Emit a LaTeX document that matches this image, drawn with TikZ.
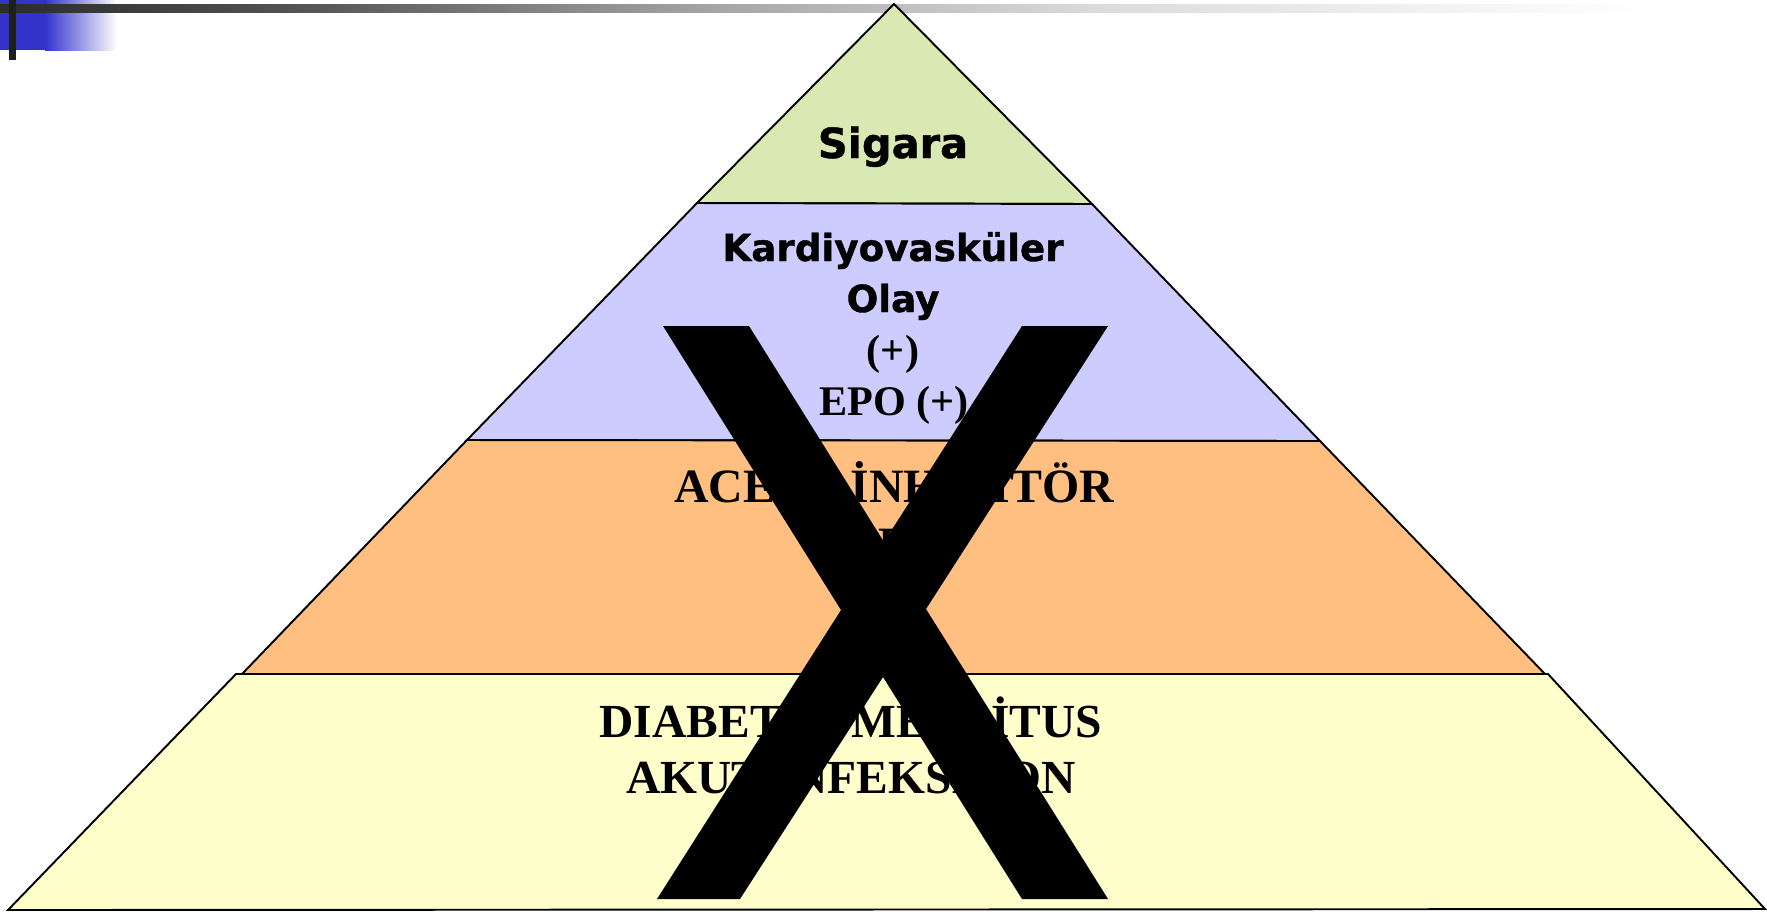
\documentclass[tikz,border=0pt]{standalone}
\usepackage{fontspec}
\setmainfont{Liberation Serif}
\newfontfamily\dejavu{DejaVu Sans}[BoldFeatures={FakeBold=1}]
\usepackage{tikz}

\definecolor{topgreen}{HTML}{D8E9B4}
\definecolor{lilac}{HTML}{CCCCFF}
\definecolor{peach}{HTML}{FFBF80}
\definecolor{cream}{HTML}{FFFFCC}
\definecolor{slideblue}{HTML}{3333CC}

\tikzset{
  sanslbl/.style={anchor=base, font=\dejavu\bfseries\fontsize{#1}{#1}\selectfont},
  seriflbl/.style={anchor=base, font=\bfseries\fontsize{#1}{#1}\selectfont},
  band/.style={draw=black, line width=0.55pt, line join=miter}
}

\begin{document}
\begin{tikzpicture}[x=0.01cm, y=-0.01cm]
    \useasboundingbox (0,0) rectangle (1767,914);

    % 金字塔各层的角点
    \coordinate (A) at (894,4);
    \coordinate (G1) at (697,203);
    \coordinate (G2) at (1092,204);
    \coordinate (P1) at (467,440);
    \coordinate (P2) at (1320,441);
    \coordinate (O1) at (242,674);
    \coordinate (O2) at (1545,674);
    \coordinate (Y1) at (236,674);
    \coordinate (Y2) at (1548,674);
    \coordinate (B1) at (8,910);
    \coordinate (B2) at (1765,909);

    % 左上角装饰
    \fill[slideblue] (0,0) rectangle (45,50);
    \shade[left color=slideblue, right color=white] (45,0) rectangle (117,50);
    \shade[left color=black!83, right color=black!67] (0,4) rectangle (300,12);
    \shade[left color=black!67, right color=black!36] (300,4) rectangle (700,12);
    \shade[left color=black!36, right color=black!14] (700,4) rectangle (1100,12);
    \shade[left color=black!14, right color=white] (1100,4) rectangle (1640,12);
    \fill[black!88] (9,0) rectangle (16,60);

    % 绘制金字塔四层
    \filldraw[band, fill=topgreen] (A) -- (G2) -- (G1) -- cycle;
    \filldraw[band, fill=lilac] (G1) -- (G2) -- (P2) -- (P1) -- cycle;
    \filldraw[band, fill=peach] (P1) -- (P2) -- (O2) -- (O1) -- cycle;
    \filldraw[band, fill=cream] (Y1) -- (Y2) -- (B2) -- (B1) -- cycle;

    % 各层文字
    \node[sanslbl=11.8] (sigara) at (893,158) {Sigara};
    \node[sanslbl=10.6] (kardiyo) at (893,261) {Kardiyovasküler};
    \node[sanslbl=10.6] (olay) at (893,312) {Olay};
    \node[seriflbl=12] (arti) at (893,364) {(+)};
    \node[seriflbl=12] (epo) at (894,415) {EPO (+)};
    \node[seriflbl=13.6] (ace) at (894,502) {ACE\hspace{1.58em}İNHİBİTÖR};
    \node[seriflbl=13.6] (arb) at (894,560) {ARB};
    \node[seriflbl=13.5] (dm) at (851,737) {DIABETES MELLİTUS};
    \node[seriflbl=13.5] (akut) at (851,793) {AKUT İNFEKSİYON};

    % 大 X
    \fill (663,326) -- (749,326) -- (884,542) -- (1022,326) -- (1108,326)
        -- (926,609) -- (1108,899) -- (1022,899) -- (883,677) -- (740,899)
        -- (657,899) -- (841,610) -- cycle;
\end{tikzpicture}
\end{document}
